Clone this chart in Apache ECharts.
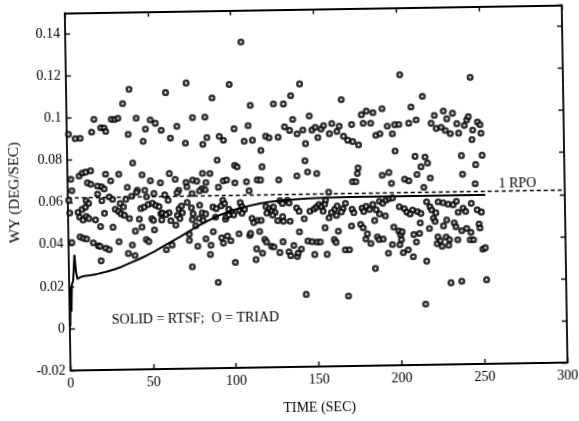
<!DOCTYPE html>
<html>
<head>
<meta charset="utf-8">
<script src="https://cdn.jsdelivr.net/npm/echarts@6/dist/echarts.min.js"></script>
<style>
  html, body { margin: 0; padding: 0; background: #fff; }
  /* the printed plot sits slightly tilted on the page */
  #chart { width: 579px; height: 421px; transform: rotate(-0.92deg); transform-origin: 50% 50%; }
</style>
</head>
<body>
<div id="chart"></div>
<script>
// Axis ticks
const timeTicks = [0, 50, 100, 150, 200, 250, 300];
const rateTicks = [-0.02, 0, 0.02, 0.04, 0.06, 0.08, 0.1, 0.12, 0.14];

// 1 RPO reference rate (deg/sec)
const rpoLevel = 0.062;

// RTSF estimate: [time (sec), WY (deg/sec)]
const rtsf = [
  [0.3, 0.001], [0.7, 0.020], [1.1, 0.008], [1.6, 0.021], [2.4, 0.0225], [3.4, 0.035],
  [4.2, 0.027], [5, 0.0235], [6.5, 0.0242], [9, 0.0248], [13, 0.0252], [17, 0.0257],
  [22, 0.0266], [27, 0.0277], [32, 0.029], [37, 0.0307], [42, 0.0323], [47, 0.0341],
  [52, 0.0361], [57, 0.0383], [62, 0.0404], [67, 0.0426], [72, 0.0449], [77, 0.0472],
  [82, 0.0492], [87, 0.0512], [92, 0.0529], [97, 0.0543], [102, 0.0555], [107, 0.0565],
  [112, 0.0574], [117, 0.0581], [122, 0.0587], [127, 0.0591], [132, 0.0594], [137, 0.0597],
  [142, 0.0599], [150, 0.0601], [160, 0.0603], [170, 0.0604], [190, 0.0604], [220, 0.0604],
  [252, 0.0604]
];

// TRIAD solutions, grouped by rate band
const triadHigh = [
  [1,.0923],[5,.0902],[8,.0903],[15,.0932],[16.5,.0992],[20.5,.0952],[22.5,.0951],[23.5,.0934],
  [27,.0991],[29,.099],[31,.0996],[34,.1065],[37,.0919],[38,.1133],[42,.0995],[46,.0884],
  [47.5,.0942],[50.5,.0985],[53.5,.0969],[57,.0935],[60,.1114],[62.5,.0897],[66.5,.0953],
  [71.5,.0872],[72.5,.1158],[76,.0993],[82,.0865],[83.5,.0995],[84.5,.0897],[88,.1085],
  [92,.0902],[94.5,.0883],[98.5,.1148],[101,.0937],[106,.1349],[107,.0877],[109.5,.0951],
  [111,.1047],[112,.0881],[117,.0832],[120,.0899],[122,.0891],[125,.1052],[127.5,.0894],
  [131,.1051],[131.5,.0942],[134.5,.0925],[135.5,.109],[136.5,.0977],[139,.0908],[141,.1145],
  [142.5,.0926],[144,.0861],[146.5,.0992],[148,.0925],[150,.0938],[151.5,.0889],[153.5,.0929],
  [155,.0945],[158.5,.0906],[160,.0954],[163,.0916],[164.5,.0941],[166,.1067],[167,.0893],
  [169.5,.0874],[172,.0948],[172.5,.0867],[176,.0851],[178,.0994],[179,.0953],[181,.1011],
  [183.5,.0953],[185,.1003],[186.5,.0895],[189,.0902],[190.5,.1021],[193.5,.0938],[196.5,.0901],
  [198,.0944],[198,.0819],[200.5,.0945],[201.5,.1181],[206.5,.095],[208,.1027],[211,.0965],
  [215,.1077],[220,.0948],[222,.0985],[223,.0923],[226,.0928],[227.5,.1005],[228.5,.0913],
  [229.5,.0968],[231.5,.0897],[233,.0994],[235.5,.0944],[236.5,.0899],[240,.0935],[241.5,.0961],
  [242.5,.0977],[244,.1163],[244.5,.0867],[245,.0913],[248,.095],[249.5,.0938],[250,.0897]
];

const triadUpperMid = [
  [2,.0709],[2.5,.0655],[7,.0724],[9,.0738],[11,.0742],[12,.0691],[14,.0748],[14,.0684],
  [18,.0675],[20.5,.0671],[22,.0661],[23,.0731],[26,.0699],[31,.073],[36,.0667],[39.5,.0782],
  [42,.0652],[45,.0725],[46.5,.0651],[50,.0696],[56,.0686],[61.5,.0729],[65,.0701],[67,.0649],
  [71.5,.0686],[72,.0664],[75.5,.0696],[78,.0691],[81,.0655],[81.5,.0727],[83,.0649],[83.5,.0683],
  [86,.0726],[90.5,.0789],[91,.066],[94,.069],[96,.0694],[101,.0763],[101,.068],[102.5,.0756],
  [108,.0684],[114.5,.0692],[116.5,.0691],[117.5,.0754],[127.5,.069],[138.5,.0708],[143.5,.0779],
  [145,.0726],[150.5,.0718],[172,.0676],[174,.0676],[175,.0715],[175.5,.0741],[190,.0705],
  [194,.0717],[195.5,.0665],[203.5,.0684],[206,.0676],[210,.0792],[211,.0706],[213.5,.0742],
  [215,.0644],[216,.0788],[217.5,.0759],[219,.0688],[238,.0792],[238.5,.0703],[246,.0657],
  [246.5,.0748],[250.5,.0792]
];

const triadNearRpo = [
  [0.5,.061],[1,.0549],[6,.0551],[8.5,.0565],[10.5,.0575],[11,.0606],[12.5,.0593],[18,.0637],
  [20.5,.0605],[22,.0545],[25,.0623],[27,.0611],[28.5,.0563],[30.5,.0553],[31.5,.059],[33.5,.0574],
  [35,.061],[38.5,.0624],[41.5,.0642],[44,.0565],[46,.0571],[47.5,.062],[48.5,.0583],[51,.0589],
  [52,.0635],[53,.0579],[55,.0572],[56,.0538],[57,.0541],[58.5,.0628],[60.5,.0602],[61,.0543],
  [66,.0637],[67,.0561],[68.5,.0574],[69,.0542],[72,.059],[74.5,.0564],[75,.0632],[75.5,.0536],
  [79.5,.0644],[79.5,.0576],[81,.0539],[83,.0534],[87.5,.0566],[89.5,.0559],[92.5,.0571],
  [93.5,.0598],[94.5,.0582],[97,.0555],[99,.0542],[103.5,.0547],[104,.0585],[105,.0566],
  [106.5,.0553],[109.5,.0641],[119.5,.0564],[121.5,.0555],[123,.0545],[124,.0562],[125,.0536],
  [128,.0592],[129.5,.0578],[132.5,.0593],[133.5,.058],[138,.0556],[146,.0539],[148.5,.0549],
  [150,.0558],[151.5,.057],[153,.056],[154,.0538],[155,.0572],[155.5,.0591],[157.5,.0628],
  [161,.0546],[162.5,.0562],[166,.0549],[167.5,.0574],[171.5,.0545],[177.5,.055],[180,.0558],
  [182,.0543],[184,.0566],[188,.0581],[190,.0571],[192,.0586],[194,.0593],[196,.0596],[200,.0554],
  [203,.0544],[208,.0537],[216.5,.0575],[218.5,.0551],[223.5,.0574],[226.5,.0569],[229.5,.0562],
  [232.5,.0559],[234.5,.0575],[238.5,.0542],[243.5,.0564],[247,.0533]
];

const triadLowerMid = [
  [7,.0529],[9,.0515],[11,.0531],[12.5,.0521],[16.5,.0514],[19.5,.0482],[27,.0478],[32,.0541],
  [34,.0534],[37,.0518],[40.5,.0458],[43,.0514],[44.5,.0476],[50.5,.0516],[51.5,.0507],[52,.0462],
  [56.5,.0509],[59,.0534],[62,.0505],[65,.0483],[66,.053],[67.5,.0514],[75,.0508],[77,.0479],
  [79,.0513],[81.5,.0504],[87.5,.0449],[89,.0518],[95,.0507],[95.5,.052],[97,.0527],[100,.0527],
  [105,.0535],[111,.051],[112,.0489],[114.5,.0499],[116.5,.0499],[120,.0533],[123.5,.0523],
  [126.5,.0497],[129.5,.0515],[130,.0493],[134,.0493],[139.5,.054],[139.5,.0442],[142.5,.0504],
  [155,.0459],[157.5,.0506],[159,.0531],[162,.0517],[163,.0442],[165,.0533],[171,.0466],
  [172.5,.0529],[176.5,.0473],[178,.0456],[178.5,.0534],[185,.049],[186,.0541],[188,.0521],
  [191.5,.0511],[196.5,.0457],[204.5,.0527],[206.5,.0518],[211,.0529],[212.5,.0475],[213,.052],
  [218,.0448],[219.5,.0536],[220.5,.0497],[221.5,.0481],[222,.0522],[226.5,.0459],[228.5,.0487],
  [233,.0473],[234,.0454],[235.5,.0523],[240,.0526],[248,.0466],[248.5,.0447],[249.5,.0522]
];

const triadLow = [
  [2,.0408],[7,.0435],[9,.0428],[11,.0424],[15,.0405],[18,.0391],[19,.0388],[19.5,.0319],
  [22.5,.0379],[24.5,.0372],[30.5,.0409],[36,.0352],[38.5,.0392],[40,.0342],[47,.0417],[48.5,.0407],
  [59,.0367],[62.5,.0389],[73,.0439],[73,.041],[74.5,.0284],[78,.0381],[83,.0416],[85.5,.0341],
  [86,.0385],[90,.0208],[92.5,.0419],[93.5,.0394],[96,.0428],[98,.0405],[100.5,.0302],[103,.0437],
  [109.5,.0429],[110,.0438],[113,.0313],[113.5,.0364],[115.5,.0447],[117,.0343],[118.5,.0409],
  [119.5,.0396],[122.5,.0375],[124,.0372],[127.5,.0345],[129.5,.0396],[133,.0348],[134,.0329],
  [136,.0378],[138,.0325],[138.5,.0341],[140.5,.036],[143,.0144],[144.5,.0398],[147,.0394],
  [148.5,.0333],[150,.0392],[152,.0392],[156,.0333],[160.5,.0402],[161.5,.0389],[167,.0353],
  [168.5,.0133],[169.5,.0353],[179.5,.0403],[180.5,.0427],[182.5,.0381],[185,.0262],[186.5,.0412],
  [187.5,.0399],[190,.0401],[193,.0334],[195.5,.0374],[199.5,.0438],[200,.0373],[200.5,.0421],
  [201,.0397],[201.5,.0434],[202,.0335],[205,.0348],[208,.0315],[208.5,.042],[210,.0385],
  [212,.0425],[215,.0089],[216,.0293],[222.5,.0375],[223,.0407],[224.5,.0388],[225.5,.0362],
  [228,.0406],[229.5,.0367],[230,.0393],[230.5,.0188],[235,.0392],[237,.0195],[237.5,.0435],
  [240.5,.0445],[242.5,.0391],[243,.0426],[244.5,.0391],[250,.0346],[251.5,.0352],[252,.02]
];

const serif = '"Liberation Serif", "Times New Roman", serif';
const black = '#000';

const triad = [].concat(triadHigh, triadUpperMid, triadNearRpo, triadLowerMid, triadLow);
const tStep = timeTicks[1] - timeTicks[0];
const wStep = +(rateTicks[1] - rateTicks[0]).toFixed(4);

const frameLine = { onZero: false, lineStyle: { color: black, width: 1.8 } };
const tickIn = { inside: true, length: 5, lineStyle: { color: black, width: 1.4 } };

const chart = echarts.init(document.getElementById('chart'), null, { renderer: 'canvas' });
chart.setOption({
  animation: false,
  backgroundColor: '#fff',
  grid: { left: 68, top: 9.5, width: 497, height: 357.5 },
  xAxis: [
    {
      type: 'value', min: timeTicks[0], max: timeTicks[timeTicks.length - 1], interval: tStep,
      axisLine: frameLine, axisTick: tickIn, splitLine: { show: false },
      axisLabel: { color: black, fontFamily: serif, fontSize: 14, margin: 6 },
      name: 'TIME (SEC)', nameLocation: 'middle', nameGap: 34,
      nameTextStyle: { color: black, fontFamily: serif, fontSize: 14 }
    },
    {
      type: 'value', position: 'top', min: timeTicks[0], max: timeTicks[timeTicks.length - 1], interval: tStep,
      axisLine: frameLine, axisTick: tickIn, splitLine: { show: false }, axisLabel: { show: false }
    }
  ],
  yAxis: [
    {
      type: 'value', min: rateTicks[0], max: 0.15, interval: wStep,
      axisLine: frameLine, axisTick: tickIn, splitLine: { show: false },
      axisLabel: { color: black, fontFamily: serif, fontSize: 14, margin: 5, showMaxLabel: false },
      name: 'WY (DEG/SEC)', nameLocation: 'middle', nameGap: 44,
      nameTextStyle: { color: black, fontFamily: serif, fontSize: 15 }
    },
    {
      type: 'value', position: 'right', min: rateTicks[0], max: 0.15, interval: wStep,
      axisLine: frameLine, axisTick: tickIn, splitLine: { show: false }, axisLabel: { show: false }
    }
  ],
  series: [
    {
      name: 'TRIAD', type: 'scatter', data: triad, symbol: 'circle', symbolSize: 4.6,
      itemStyle: { color: '#fff', borderColor: black, borderWidth: 2.5 }, z: 3
    },
    {
      name: 'RTSF', type: 'line', data: rtsf, showSymbol: false, smooth: false,
      lineStyle: { color: black, width: 2 }, z: 4
    },
    {
      name: '1 RPO', type: 'line', data: [[timeTicks[0], rpoLevel], [timeTicks[timeTicks.length - 1], rpoLevel]],
      showSymbol: false, lineStyle: { color: black, width: 1.4, type: [4, 3] }, z: 2
    }
  ],
  graphic: [
    { type: 'text', left: 110, top: 310, style: { text: 'SOLID = RTSF;  O = TRIAD', font: '14px ' + serif, fill: black } },
    { type: 'text', left: 499, top: 180, style: { text: '1 RPO', font: '14px ' + serif, fill: black } }
  ]
});
</script>
</body>
</html>
